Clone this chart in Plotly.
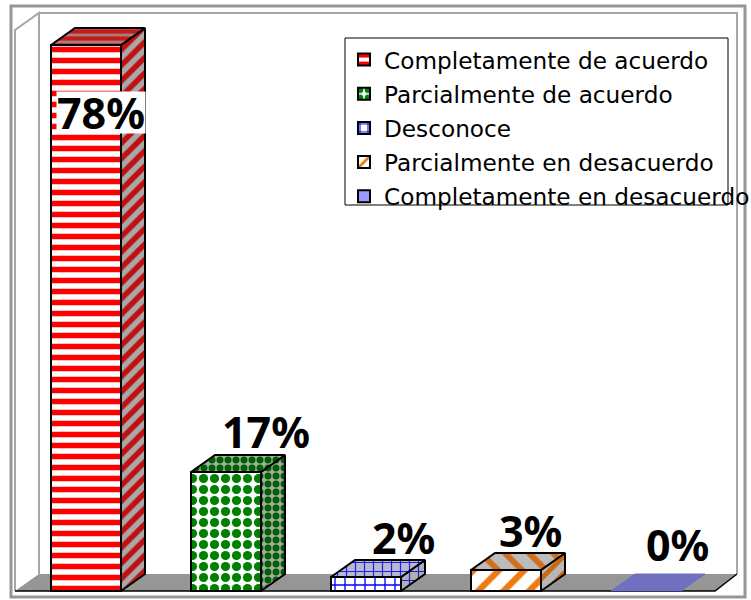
import plotly.graph_objects as go

categories = ["Completamente de acuerdo", "Parcialmente de acuerdo", "Desconoce",
              "Parcialmente en desacuerdo", "Completamente en desacuerdo"]
values = [78, 17, 2, 3, 0]
labels = ["78%", "17%", "2%", "3%", "0%"]

W, H = 751, 600
X0, STEP = 86, 140      # pixel of first category, pixels per category
Y0, UNIT = 591, 7       # pixel of value 0, pixels per percent
DX, DY = 24 / STEP, 17 / UNIT
BAR = 70 / STEP

front = [
    dict(shape="-", fgcolor="#ff0000", bgcolor="#ffffff", size=11, solidity=0.5, fgopacity=1),
    dict(shape=".", fgcolor="#008000", bgcolor="#ffffff", size=11, solidity=0.55, fgopacity=1),
    dict(shape="+", fgcolor="#0000ff", bgcolor="#ffffff", size=10, solidity=0.25, fgopacity=1),
    dict(shape="/", fgcolor="#ee7a10", bgcolor="#ffffff", size=18, solidity=0.35, fgopacity=1),
    dict(shape="", fgcolor="#9999ff", bgcolor="#9999ff", size=8, solidity=0.5, fgopacity=1),
]
swatch_fill = ["#ffffff", "#ffffff", "#ffffff", "#ffffff", "#9999ff"]
side = [
    dict(shape="/", fgcolor="#c01010", bgcolor="#a8a8a8", size=11, solidity=0.5, fgopacity=1),
    dict(shape=".", fgcolor="#006000", bgcolor="#a8a8a8", size=8, solidity=0.6, fgopacity=1),
    dict(shape="+", fgcolor="#2020d0", bgcolor="#b0b0b0", size=9, solidity=0.25, fgopacity=1),
    dict(shape="/", fgcolor="#c86a10", bgcolor="#b8b8b8", size=12, solidity=0.4, fgopacity=1),
    None,
]
top = [
    dict(shape="-", fgcolor="#c81818", bgcolor="#a08080", size=7, solidity=0.6, fgopacity=1),
    dict(shape=".", fgcolor="#006000", bgcolor="#a0b0a0", size=8, solidity=0.6, fgopacity=1),
    dict(shape="+", fgcolor="#2020e0", bgcolor="#b8b8d0", size=9, solidity=0.25, fgopacity=1),
    dict(shape="\\", fgcolor="#d0701a", bgcolor="#bcbcbc", size=17, solidity=0.35, fgopacity=1),
    None,
]
flat_color = "#7070c0"
label_dx = [15 / STEP, 40 / STEP, 37 / STEP, 24 / STEP, 31 / STEP]
label_dy = [-67 / UNIT, 41 / UNIT, 40 / UNIT, 40 / UNIT, 47 / UNIT]


def px(x):
    return x / W


def py(y):
    return 1 - y / H


fig = go.Figure()
for i, c in enumerate(categories):
    fig.add_trace(go.Bar(
        x=[i], y=[values[i]], name=c, width=BAR,
        marker=dict(color=swatch_fill[i], pattern=front[i],
                    line=dict(color="#000000", width=2)),
        legendgroup=c, hoverinfo="name+y"))

for i, v in enumerate(values):
    l, r = i - BAR / 2, i + BAR / 2
    if side[i] is not None:
        fig.add_trace(go.Scatter(
            x=[r, r + DX, r + DX, r, r], y=[0, DY, v + DY, v, 0],
            mode="lines", fill="toself", fillcolor=side[i]["bgcolor"], fillpattern=side[i],
            line=dict(color="#000000", width=2), showlegend=False, hoverinfo="skip"))
        fig.add_trace(go.Scatter(
            x=[l, r, r + DX, l + DX, l], y=[v, v, v + DY, v + DY, v],
            mode="lines", fill="toself", fillcolor=top[i]["bgcolor"], fillpattern=top[i],
            line=dict(color="#000000", width=2), showlegend=False, hoverinfo="skip"))
    else:
        fig.add_trace(go.Scatter(
            x=[l, r, r + DX, l + DX, l], y=[v, v, v + DY, v + DY, v],
            mode="lines", fill="toself", fillcolor=flat_color,
            line=dict(color=flat_color, width=1), showlegend=False, hoverinfo="skip"))

annotations = []
for i, t in enumerate(labels):
    annotations.append(dict(
        x=i + label_dx[i], y=values[i] + label_dy[i], text=f"<b>{t}</b>", showarrow=False,
        font=dict(family="Noto Sans", size=43, color="#000000"),
        height=41, valign="middle",
        bgcolor="#ffffff" if i == 0 else "rgba(0,0,0,0)", borderpad=0))

GRAY = "#969696"
wall = dict(color="#a6a6a6", width=2)
shapes = [
    # outer frame
    dict(type="rect", xref="paper", yref="paper", x0=px(11), x1=px(745), y0=py(597), y1=py(6),
         line=dict(color=GRAY, width=3), layer="below"),
    # walls
    dict(type="path", xref="paper", yref="paper", layer="below", line=wall,
         path=f"M {px(15)} {py(591)} L {px(15)} {py(30)} L {px(39)} {py(13)} L {px(39)} {py(574)}"),
    dict(type="path", xref="paper", yref="paper", layer="below", line=wall,
         path=f"M {px(39)} {py(13)} L {px(737)} {py(13)} L {px(737)} {py(574)}"),
    # floor
    dict(type="path", xref="paper", yref="paper", layer="below", fillcolor=GRAY,
         line=dict(width=0),
         path=f"M {px(15)} {py(591)} L {px(39)} {py(574)} L {px(737)} {py(574)} L {px(715)} {py(591)} Z"),
    dict(type="path", xref="paper", yref="paper", layer="below", line=dict(color="#000000", width=1.5),
         path=f"M {px(15)} {py(591)} L {px(715)} {py(591)} L {px(737)} {py(574)}"),
    # legend box
    dict(type="rect", xref="paper", yref="paper", x0=px(345), x1=px(728), y0=py(205), y1=py(38),
         fillcolor="#ffffff", line=dict(color="#000000", width=1), layer="below"),
]

fig.update_layout(
    width=W, height=H, margin=dict(l=0, r=0, t=0, b=0, autoexpand=False),
    paper_bgcolor="#ffffff", plot_bgcolor="rgba(0,0,0,0)",
    xaxis=dict(visible=False, range=[-X0 / STEP, (W - X0) / STEP], fixedrange=True),
    yaxis=dict(visible=False, range=[-(H - Y0) / UNIT, Y0 / UNIT], fixedrange=True),
    barmode="overlay", shapes=shapes, annotations=annotations,
    legend=dict(x=px(344), y=py(38), xanchor="left", yanchor="top",
                bgcolor="rgba(0,0,0,0)", borderwidth=0, tracegroupgap=1.0,
                font=dict(family="DejaVu Sans", size=23.2, color="#000000")),
    showlegend=True,
)
fig.write_html("out.html", default_width=W, default_height=H,
               config=dict(displayModeBar=False, responsive=False),
               post_script="document.body.style.margin='0';document.body.style.overflow='hidden';")
